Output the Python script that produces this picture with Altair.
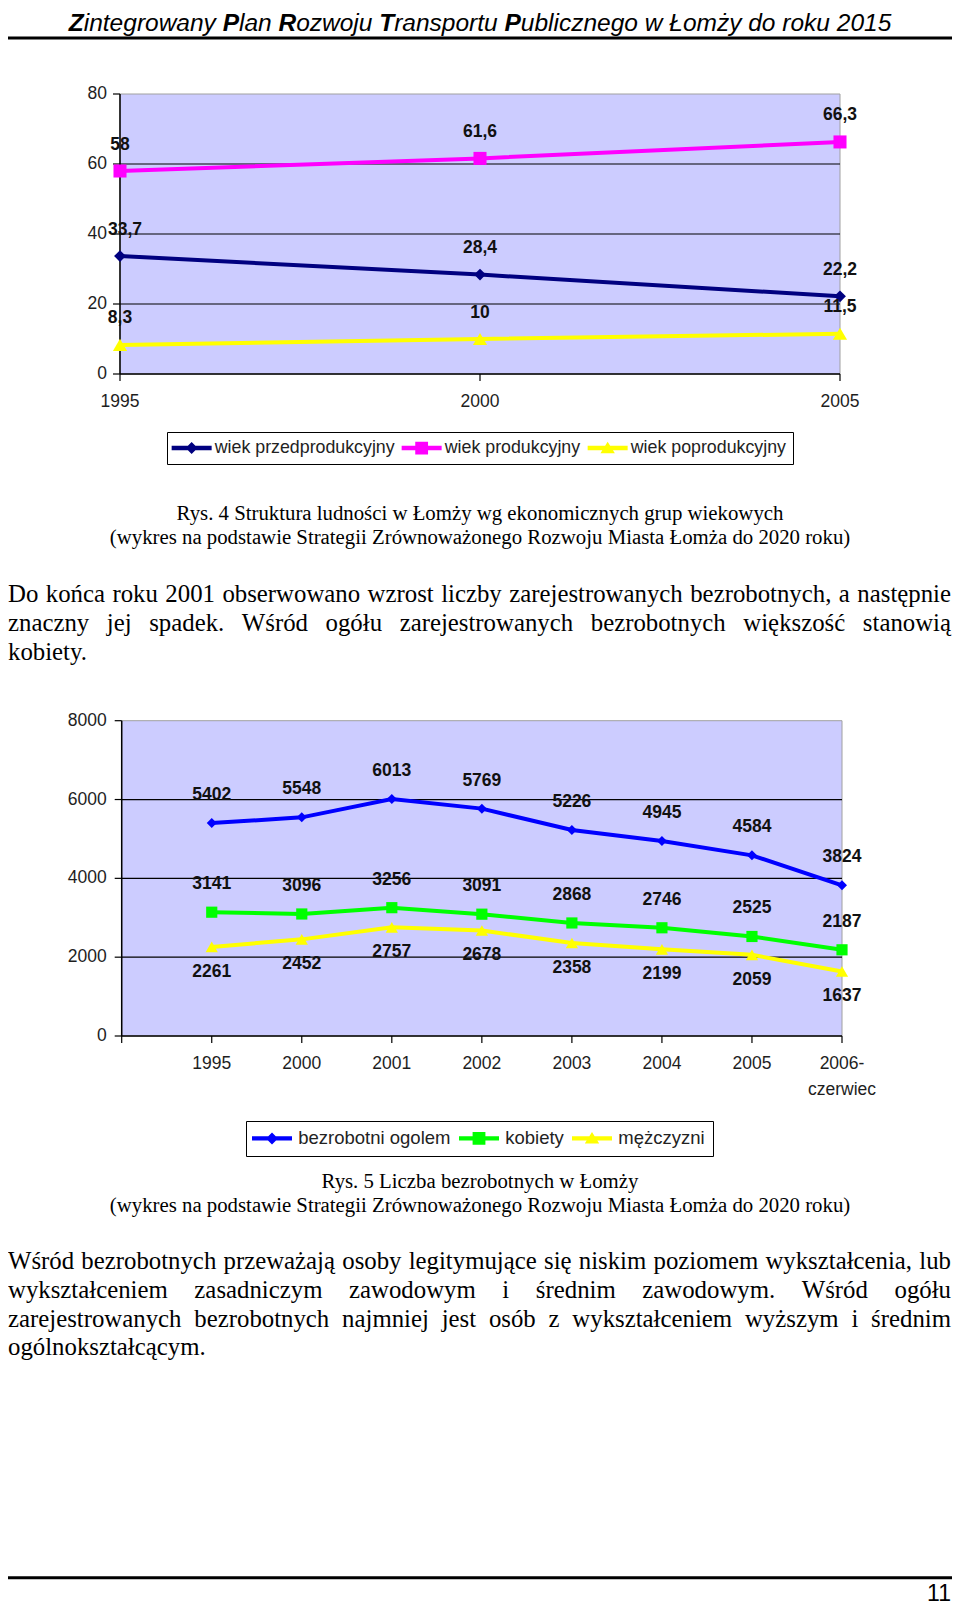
import altair as alt
import pandas as pd

# page offset (body margin) and canvas size
OX, OY = 8, 8
W, H = 944, 1599

SANS = "Liberation Sans"
SERIF = "Liberation Serif"

# ------------------------------------------------------------------ page text
header_parts = [("Z", True), ("integrowany ", False), ("P", True), ("lan ", False),
                ("R", True), ("ozwoju ", False), ("T", True), ("ransportu ", False),
                ("P", True), ("ublicznego w Łomży do roku 2015", False)]
caption1 = ["Rys. 4 Struktura ludności w Łomży wg ekonomicznych grup wiekowych",
            "(wykres na podstawie Strategii Zrównoważonego Rozwoju Miasta Łomża do 2020 roku)"]
para1 = ["Do końca roku 2001 obserwowano wzrost liczby zarejestrowanych bezrobotnych, a następnie",
         "znaczny jej spadek. Wśród ogółu zarejestrowanych bezrobotnych większość stanowią",
         "kobiety."]
caption2 = ["Rys. 5 Liczba bezrobotnych w Łomży",
            "(wykres na podstawie Strategii Zrównoważonego Rozwoju Miasta Łomża do 2020 roku)"]
para2 = ["Wśród bezrobotnych przeważają osoby legitymujące się niskim poziomem wykształcenia, lub",
         "wykształceniem zasadniczym zawodowym i średnim zawodowym. Wśród ogółu",
         "zarejestrowanych bezrobotnych najmniej jest osób z wykształceniem wyższym i średnim",
         "ogólnokształcącym."]
page_number = ["11"]

# ------------------------------------------------------------------ chart 1 data
years1 = [1995, 2000, 2005]
series1 = ["wiek przedprodukcyjny", "wiek produkcyjny", "wiek poprodukcyjny"]
przedprodukcyjny = [33.7, 28.4, 22.2]
produkcyjny = [58, 61.6, 66.3]
poprodukcyjny = [8.3, 10, 11.5]
colors1 = ["#000080", "#FF00FF", "#FFFF00"]
yticks1 = [0, 20, 40, 60, 80]

# ------------------------------------------------------------------ chart 2 data
cats2 = ["1995", "2000", "2001", "2002", "2003", "2004", "2005", "2006-\nczerwiec"]
series2 = ["bezrobotni ogolem", "kobiety", "mężczyzni"]
ogolem = [5402, 5548, 6013, 5769, 5226, 4945, 4584, 3824]
kobiety = [3141, 3096, 3256, 3091, 2868, 2746, 2525, 2187]
mezczyzni = [2261, 2452, 2757, 2678, 2358, 2199, 2059, 1637]
colors2 = ["#0000FF", "#00FF00", "#FFFF00"]
yticks2 = [0, 2000, 4000, 6000, 8000]

# ------------------------------------------------------------------ font metrics (per 1000 em)
TIMES = {" ": 250, ",": 250, ".": 250, "-": 333, "(": 333, ")": 333}
TIMES.update({d: 500 for d in "0123456789"})
TIMES.update(dict(zip("abcdefghijklmnopqrstuvwxyz",
                      [444, 500, 444, 500, 444, 333, 500, 500, 278, 278, 500, 278, 778, 500, 500,
                       500, 500, 333, 389, 278, 500, 500, 722, 500, 500, 444])))
TIMES.update(dict(zip("ABCDEFGHIJKLMNOPQRSTUVWXYZ",
                      [722, 667, 667, 722, 611, 556, 722, 722, 333, 389, 722, 611, 889, 722, 722,
                       556, 722, 667, 556, 611, 722, 722, 944, 722, 722, 611])))
TIMES.update({"ą": 444, "ć": 444, "ę": 444, "ł": 278, "ń": 500, "ó": 500, "ś": 389, "ź": 444,
              "ż": 444, "Ł": 611, "Ś": 556, "Ż": 611, "Ó": 722})
ARIAL = {" ": 278, ",": 278, ".": 278, "-": 333}
ARIAL.update({d: 556 for d in "0123456789"})
ARIAL.update(dict(zip("abcdefghijklmnopqrstuvwxyz",
                      [556, 556, 500, 556, 556, 278, 556, 556, 222, 222, 500, 222, 833, 556, 556,
                       556, 556, 333, 500, 278, 556, 500, 722, 500, 500, 500])))
ARIAL.update(dict(zip("ABCDEFGHIJKLMNOPQRSTUVWXYZ",
                      [667, 667, 722, 722, 667, 611, 778, 722, 278, 500, 667, 556, 833, 722, 778,
                       667, 778, 722, 667, 611, 722, 667, 944, 667, 667, 611])))
ARIAL.update({"ł": 222, "ż": 500, "ó": 556, "ś": 500, "ę": 556, "ą": 556, "Ł": 556})


def tw(s, table, fs):
    return sum(table.get(ch, 500) for ch in s) * fs / 1000.0


def layout_line(line, x0, x1, fs, justify):
    words = line.split(" ")
    ws = [tw(w, TIMES, fs) for w in words]
    if justify and len(words) > 1:
        gap = (x1 - x0 - sum(ws)) / (len(words) - 1)
    else:
        gap = TIMES[" "] * fs / 1000.0
    out, x = [], x0
    for w, wd in zip(words, ws):
        out.append((w, x))
        x += wd + gap
    return out


PFS = 24.8
prow = []
for lines, ys in [(para1, [594, 623, 652]), (para2, [1261, 1290, 1318.5, 1347])]:
    for i, (line, y) in enumerate(zip(lines, ys)):
        for w, x in layout_line(line, 0, 943, PFS, i < len(lines) - 1):
            prow.append({"x": x, "y": y, "t": w})
para_df = pd.DataFrame(prow)

HFS = 24.5
hx0 = 480 - OX - tw("".join(t for t, _ in header_parts), ARIAL, HFS) / 2
hrows, hx = [], hx0
for txt, bold in header_parts:
    hrows.append({"x": hx, "y": 22.5, "t": txt, "b": bold})
    hx += tw(txt, ARIAL, HFS)
head_df = pd.DataFrame(hrows)

cap_df = pd.DataFrame({"x": [472] * 4, "y": [512, 536, 1180, 1204], "t": caption1 + caption2})
num_df = pd.DataFrame({"x": [943], "y": [1593], "t": page_number})

PX = lambda: alt.X("x:Q", scale=None, axis=None)
PY = lambda: alt.Y("y:Q", scale=None, axis=None)

para_layer = alt.Chart(para_df).mark_text(align="left", baseline="alphabetic", font=SERIF,
                                           fontSize=PFS, color="black").encode(x=PX(), y=PY(), text="t:N")
cap_layer = alt.Chart(cap_df).mark_text(align="center", baseline="alphabetic", font=SERIF,
                                         fontSize=20.8, color="black").encode(x=PX(), y=PY(), text="t:N")
head_norm = alt.Chart(head_df).transform_filter("!datum.b").mark_text(
    align="left", baseline="alphabetic", font=SANS, fontStyle="italic", fontSize=HFS,
    color="black").encode(x=PX(), y=PY(), text="t:N")
head_bold = alt.Chart(head_df).transform_filter("datum.b").mark_text(
    align="left", baseline="alphabetic", font=SANS, fontStyle="italic", fontWeight="bold",
    fontSize=HFS, color="black").encode(x=PX(), y=PY(), text="t:N")
num_layer = alt.Chart(num_df).mark_text(align="right", baseline="alphabetic",
                                         font="Liberation Sans Narrow, Liberation Sans",
                                         fontSize=23, color="black").encode(x=PX(), y=PY(), text="t:N")
one = pd.DataFrame({"k": [0]})
rule_top = alt.Chart(one).mark_rule(color="black", strokeWidth=3).encode(
    x=alt.value(0), x2=alt.value(W), y=alt.value(30))
rule_bot = alt.Chart(one).mark_rule(color="black", strokeWidth=3).encode(
    x=alt.value(0), x2=alt.value(W), y=alt.value(1569.7))


# ------------------------------------------------------------------ chart builder
def fmt(v):
    return f"{v:g}".replace(".", ",")


BAR = "M-2.5,-0.28H2.5V0.28H-2.5Z "
paths = [BAR + "M0,-0.75L0.75,0L0,0.75L-0.75,0Z",
         BAR + "M-0.8,-0.8H0.8V0.8H-0.8Z",
         BAR + "M0,-0.8L0.9,0.65L-0.9,0.65Z"]
shapes = ["diamond", "square", "triangle-up"]
AXC = "#1e1e1e"
AFS = 17.5


def build_chart(df, xs, ys, series, colors, sizes, legend, grid_vals, xlim, ylim,
                xticks, xlabels, yticks, ylabels, ylab_dx, above, below, dy_above, dy_below,
                nudge=None):
    X = lambda: alt.X("x:Q", scale=xs, axis=None)
    Y = lambda: alt.Y("value:Q", scale=ys, axis=None)
    col = lambda lg=None: alt.Color("series:N", scale=alt.Scale(domain=series, range=colors), legend=lg)
    bg_df = pd.DataFrame({"x": [xlim[0]], "x1": [xlim[1]], "value": [ylim[0]], "v1": [ylim[1]]})
    bg = alt.Chart(bg_df).mark_rect(fill="#CCCCFF", stroke="#A0A0A0", strokeWidth=1).encode(
        x=X(), x2="x1:Q", y=Y(), y2="v1:Q")
    g_df = pd.DataFrame({"value": grid_vals, "x": xlim[0], "x1": xlim[1]})
    grid = alt.Chart(g_df).mark_rule(color="black", strokeWidth=1.2).encode(x=X(), x2="x1:Q", y=Y())
    # axes drawn through the chart's scales
    ydom = alt.Chart(bg_df).mark_rule(color="black", strokeWidth=1.5).encode(x=X(), y=Y(), y2="v1:Q")
    xdom = alt.Chart(bg_df).mark_rule(color="black", strokeWidth=1.5).encode(x=X(), x2="x1:Q", y=Y())
    yt_df = pd.DataFrame({"value": yticks, "x": xlim[0], "lab": ylabels})
    ytick = alt.Chart(yt_df).mark_rule(color="black", strokeWidth=1.2, x2Offset=-7).encode(
        x=X(), x2="x:Q", y=Y())
    ylab = alt.Chart(yt_df).mark_text(align="right", baseline="middle", dx=ylab_dx, font=SANS,
                                      fontSize=AFS, color=AXC).encode(x=X(), y=Y(), text="lab:N")
    xt_df = pd.DataFrame({"x": xticks, "value": ylim[0], "lab": xlabels})
    xtick = alt.Chart(xt_df).mark_rule(color="black", strokeWidth=1.2, y2Offset=7).encode(
        x=X(), y=Y(), y2="value:Q")
    xlab = alt.Chart(xt_df).mark_text(align="center", baseline="top", dy=18.5, font=SANS,
                                      fontSize=AFS, color=AXC, lineBreak="\n",
                                      lineHeight=26).encode(x=X(), y=Y(), text="lab:N")
    lines = alt.Chart(df).mark_line(strokeWidth=4).encode(x=X(), y=Y(), color=col())
    pts = alt.Chart(df).mark_point(filled=True, opacity=1).encode(
        x=X(), y=Y(), color=col(),
        shape=alt.Shape("series:N", scale=alt.Scale(domain=series, range=shapes), legend=None),
        size=alt.Size("series:O", scale=alt.Scale(domain=series, range=sizes), legend=None))
    layers = [bg, grid, ydom, xdom, ytick, ylab, xtick, xlab, lines, pts]
    base_filter = "true" if nudge is None else "!(" + nudge + ")"
    for grp, dy in [(above, dy_above), (below, dy_below)]:
        if grp:
            layers.append(alt.Chart(df).transform_filter(
                alt.FieldOneOfPredicate(field="series", oneOf=grp)).transform_filter(
                base_filter).mark_text(
                font=SANS, fontSize=AFS, fontWeight="bold", color="#111", baseline="middle",
                dy=dy).encode(x=X(), y=Y(), text="label:N"))
    if nudge is not None:
        layers.append(alt.Chart(df).transform_filter(nudge).mark_text(
            font=SANS, fontSize=AFS, fontWeight="bold", color="#111", baseline="middle",
            dy=dy_above, dx=5).encode(x=X(), y=Y(), text="label:N"))
    dummy = alt.Chart(df).transform_filter("false").mark_point(filled=True, opacity=1).encode(
        x=X(), y=Y(), color=col(legend),
        shape=alt.Shape("series:N", scale=alt.Scale(domain=series, range=paths), legend=legend))
    layers.append(dummy)
    return alt.layer(*layers).resolve_scale(color="independent", shape="independent", size="independent")


def mk_legend(lx, ly, fs, loff, pad, cpad):
    return alt.Legend(title=None, orient="none", legendX=lx, legendY=ly, direction="horizontal",
                      strokeColor="black", fillColor="white", padding=pad, symbolSize=256,
                      symbolStrokeWidth=0, symbolOffset=8.75, labelOffset=loff, columnPadding=cpad,
                      labelFont=SANS, labelFontSize=fs, labelColor="#222", labelLimit=0,
                      symbolOpacity=1)


# chart 1 table
rows1 = []
for s, vals in zip(series1, [przedprodukcyjny, produkcyjny, poprodukcyjny]):
    for yr, v in zip(years1, vals):
        rows1.append({"x": yr, "series": s, "value": v, "label": fmt(v)})
df1 = pd.DataFrame(rows1)

xs1 = alt.Scale(domain=[1995, 2005], range=[120 - OX, 840 - OX], nice=False, zero=False)
ys1 = alt.Scale(domain=[0, 80], range=[374 - OY, 94 - OY], nice=False, zero=False)
chart1 = build_chart(df1, xs1, ys1, series1, colors1, [140, 200, 200],
                     mk_legend(167 - OX, 432 - OY, 17.8, 14.2, 7, 6),
                     [20, 40, 60], [1995, 2005], [0, 80],
                     years1, [str(y) for y in years1], yticks1, [str(v) for v in yticks1], -13,
                     series1, [], -26.5, 0,
                     nudge="datum.x == %d && datum.series == '%s'" % (years1[0], series1[0]))

# chart 2 table
rows2 = []
for s, vals in zip(series2, [ogolem, kobiety, mezczyzni]):
    for i, v in enumerate(vals):
        rows2.append({"x": i + 1, "series": s, "value": v, "label": fmt(v)})
df2 = pd.DataFrame(rows2)

xs2 = alt.Scale(domain=[0, 8], range=[121.7 - OX, 842 - OX], nice=False, zero=False)
ys2 = alt.Scale(domain=[0, 8000], range=[1036 - OY, 720.7 - OY], nice=False, zero=False)
chart2 = build_chart(df2, xs2, ys2, series2, colors2, [100, 150, 169],
                     mk_legend(246 - OX, 1121 - OY, 18.5, 17, 8, 8),
                     [2000, 4000, 6000], [0, 8], [0, 8000],
                     list(range(len(cats2) + 1)), [""] + cats2, yticks2, [str(v) for v in yticks2], -15,
                     series2[:2], series2[2:], -28, 25)

chart = alt.layer(rule_top, head_norm, head_bold, cap_layer, para_layer, rule_bot, num_layer,
                  chart1, chart2).resolve_scale(
    x="independent", y="independent", color="independent", shape="independent", size="independent"
).properties(width=W, height=H, padding=0, autosize=alt.AutoSizeParams(type="none"),
             background="white").configure_view(stroke=None)

chart.save("out.html", embed_options={"renderer": "svg", "actions": False})
